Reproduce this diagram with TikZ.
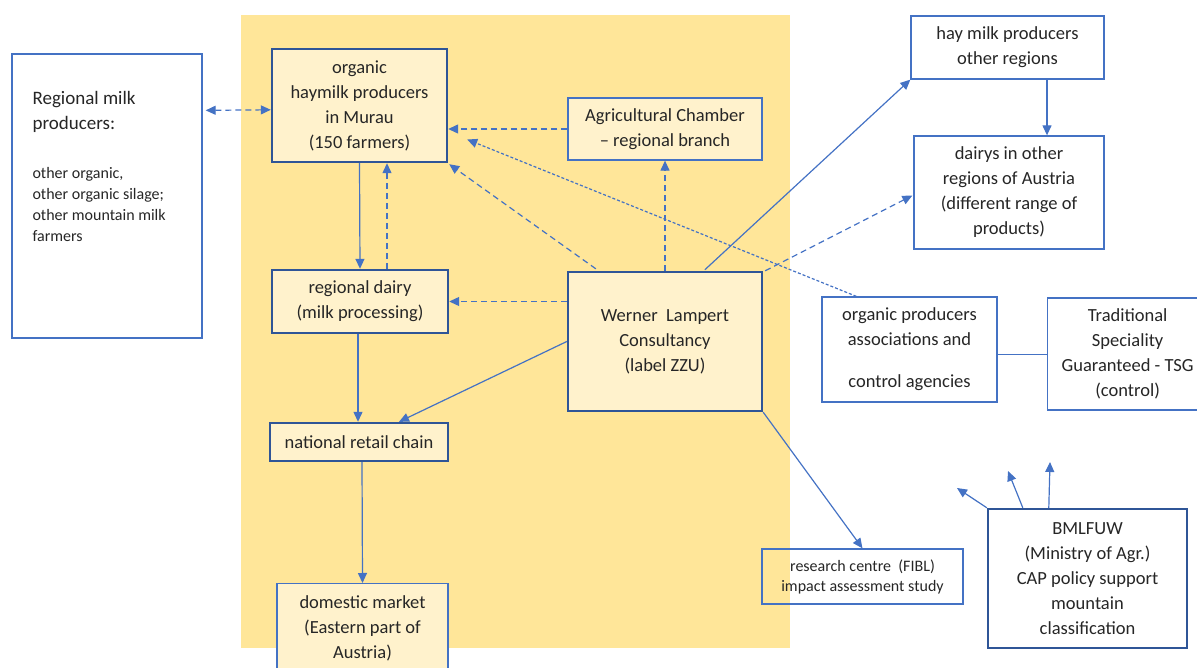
\documentclass[tikz,border=0pt]{standalone}
\usepackage{fontspec}
\setmainfont{Carlito}
\usetikzlibrary{arrows.meta,calc}
\definecolor{bgyellow}{HTML}{FFE699}
\definecolor{boxfill}{HTML}{FFF2CC}
\definecolor{darkb}{HTML}{2F5597}
\definecolor{lineb}{HTML}{4472C4}
\newcommand{\smalltxt}{\fontsize{16}{21}\selectfont}
\tikzset{
  base/.style={rectangle,inner sep=0pt,align=center,font=\fontsize{18.5}{25}\selectfont,text=black!85},
  thickbox/.style={base,draw=darkb,line width=2.4pt,fill=boxfill},
  yellowbox/.style={base,draw=lineb,line width=1.3pt,fill=boxfill},
  thinbox/.style={base,draw=lineb,line width=1.3pt,fill=white},
  conn/.style={draw=lineb,line width=1.2pt,-{Triangle[length=10pt,width=9pt]}},
  dconn/.style={conn,dash pattern=on 6pt off 4pt},
  fconn/.style={conn,dash pattern=on 3pt off 2pt},
  plain/.style={draw=lineb,line width=1.2pt},
}
\begin{document}
\begin{tikzpicture}[x=1pt,y=-1pt]
\useasboundingbox (0,0) rectangle (1197,668);
\fill[bgyellow] (241,15) rectangle (790,648);

% nodes
\node[thinbox,minimum width=190,minimum height=284] (reg) at (107,196) {};
\path (reg.north west) ++(21,38) node[anchor=north west,inner sep=0pt,align=left,text=black!85,font=\fontsize{19}{25}\selectfont] (regtxt)
  {Regional milk\\producers:\\[24pt]\smalltxt other organic,\\[-4pt]\smalltxt other organic silage;\\[-4pt]\smalltxt other mountain milk\\[-4pt]\smalltxt farmers};
\node[thickbox,minimum width=175,minimum height=113] (org) at (359.5,105.5)
  {organic\\haymilk producers\\in Murau\\(150 farmers)};
\node[yellowbox,minimum width=194,minimum height=62] (agr) at (665,129)
  {Agricultural Chamber\\– regional branch};
\node[thickbox,minimum width=176,minimum height=63] (dairy) at (360,301.5)
  {regional dairy\\(milk processing)};
\node[thickbox,minimum width=194,minimum height=139] (wl) at (665,341.5)
  {Werner~ Lampert\\Consultancy\\(label ZZU)};
\node[thickbox,minimum width=178,minimum height=38] (retail) at (359,442)
  {national retail chain};
\node[yellowbox,minimum width=171,minimum height=90,anchor=north] (dom) at (362.5,583)
  {domestic market\\(Eastern part of\\Austria)};
\node[thinbox,minimum width=193,minimum height=63] (hay) at (1007.5,47.5)
  {hay milk producers\\other regions};
\node[thinbox,minimum width=190,minimum height=113] (dairyo) at (1009,192.5)
  {dairys in other\\regions of Austria\\(different range of\\products)};
\node[thinbox,minimum width=175,minimum height=105] (opa) at (909.5,349.5)
  {organic producers\\associations and\\[17pt]control agencies};
\node[thinbox,minimum width=160,minimum height=112,anchor=west] (tsg) at (1047,354)
  {Traditional\\Speciality\\Guaranteed - TSG\\(control)};
\node[thinbox,minimum width=201,minimum height=55,font=\fontsize{16}{20}\selectfont,fill=none] (res) at (862.5,576.5)
  {research centre~ (FIBL)\\impact assessment study};
\node[thickbox,fill=white,minimum width=199,minimum height=139] (bml) at (1087.5,578.5)
  {BMLFUW\\(Ministry of Agr.)\\CAP policy support\\mountain\\classification};

\coordinate (b1) at (957,488);
\coordinate (b2) at (1008,471);
\coordinate (b3) at (1050,462);

% connectors
\draw[dconn,{Triangle[length=10pt,width=9pt]}-{Triangle[length=10pt,width=9pt]}] ($(reg.north east)+(3,57)$) -- ($(org.north west)+(0,62)$);
\draw[conn] (org.south) -- (dairy.north);
\draw[dconn] ($(dairy.north)+(27,0)$) -- ($(org.south)+(27.5,0)$);
\draw[dconn] (agr.west) -- (org.east |- agr.west);
\draw[dconn] ($(wl.north west)+(29,-2)$) -- ($(org.south east)+(1,1)$);
\draw[fconn] ($(opa.north west)+(35,0)$) -- ($(org.east)+(19,34)$);
\draw[dconn] (wl.north) -- (agr.south);
\draw[dconn] (wl.west |- dairy.east) -- (dairy.east);
\draw[conn] ($(wl.north west)+(138,-1)$) -- (hay.south west);
\draw[dconn] ($(wl.north east)+(2,0)$) -- ($(dairyo.west)+(-1,3)$);
\draw[conn] (wl.west) -- ($(retail.north)+(40,0)$);
\draw[conn] ($(dairy.south)+(-2,0)$) -- ($(retail.north)+(-1,0)$);
\draw[conn] ($(retail.south)+(3,0)$) -- (dom.north);
\draw[conn] (wl.south east) -- (res.north);
\draw[conn] ($(hay.south)+(39.5,0)$) -- ($(dairyo.north)+(38,0)$);
\coordinate (opaE) at ($(opa.east)+(0,5)$);
\draw[plain] (opaE) -- (tsg.west |- opaE);
\draw[conn] (bml.north west) -- (b1);
\draw[conn] ($(bml.north west)+(36,0)$) -- (b2);
\draw[conn] ($(bml.north west)+(62,0)$) -- (b3);
\end{tikzpicture}
\end{document}
